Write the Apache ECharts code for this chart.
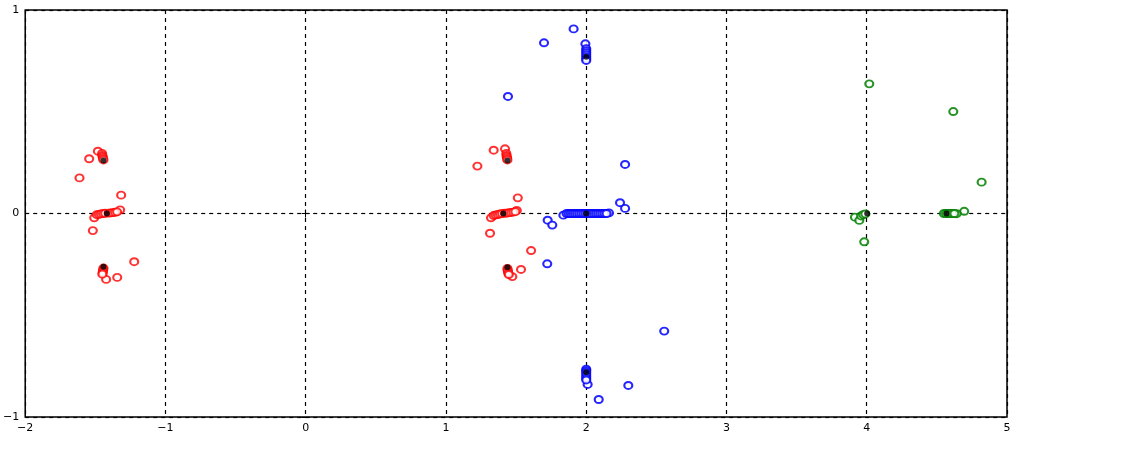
<!DOCTYPE html>
<html>
<head>
<meta charset="utf-8">
<script src="https://cdn.jsdelivr.net/npm/echarts@6/dist/echarts.min.js"></script>
<style>
  html, body { margin: 0; padding: 0; background: #fff; }
  #chart { width: 1128px; height: 453px; }
</style>
</head>
<body>
<div id="chart"></div>
<script>
// axis ticks
const xTicks = [-2, -1, 0, 1, 2, 3, 4, 5];
const yTicks = [-1, 0, 1];

// open circles, red group (two clusters)
const redPoints = [
  [-1.482, 0.306], [-1.544, 0.269], [-1.613, 0.175], [-1.316, 0.090], [-1.323, 0.018],
  [-1.508, -0.021], [-1.518, -0.084], [-1.223, -0.237], [-1.423, -0.324], [-1.344, -0.314],
  [-1.452, 0.295], [-1.45, 0.285], [-1.447, 0.278], [-1.445, 0.27], [-1.442, 0.263],
  [-1.442, -0.268], [-1.444, -0.276], [-1.446, -0.284], [-1.448, -0.292], [-1.45, -0.298],
  [-1.49, -0.006], [-1.475, -0.004], [-1.46, -0.002], [-1.445, 0], [-1.43, 0.001], [-1.405, 0.002],
  [-1.39, 0.003], [-1.375, 0.004], [-1.36, 0.006], [-1.345, 0.008],
  [1.340, 0.311], [1.421, 0.318], [1.224, 0.233], [1.512, 0.077], [1.505, 0.015],
  [1.321, -0.021], [1.314, -0.097], [1.607, -0.182], [1.535, -0.275], [1.473, -0.310],
  [1.43, 0.295], [1.432, 0.285], [1.434, 0.278], [1.436, 0.27], [1.438, 0.263],
  [1.438, -0.27], [1.44, -0.278], [1.442, -0.286], [1.445, -0.294], [1.448, -0.3],
  [1.34, -0.01], [1.355, -0.007], [1.37, -0.005], [1.385, -0.002], [1.40, 0], [1.42, 0.001],
  [1.435, 0.002], [1.45, 0.004], [1.465, 0.005], [1.48, 0.007], [1.495, 0.009]
];

// open circles, blue group
const bluePoints = [
  [1.910, 0.907], [1.699, 0.839], [1.994, 0.834], [1.442, 0.575], [2.277, 0.241],
  [2.241, 0.053], [2.277, 0.025], [2.162, 0.003], [1.837, -0.008], [1.725, -0.033],
  [1.758, -0.057], [1.722, -0.247], [2.556, -0.578], [2.010, -0.840], [2.300, -0.845],
  [2.089, -0.914],
  [2.0, 0.81], [2.0, 0.8], [2.0, 0.79], [2.0, 0.78], [2.0, 0.77], [2.0, 0.76], [2.0, 0.752],
  [2.0, -0.765], [2.0, -0.772], [2.0, -0.78], [2.0, -0.79], [2.0, -0.80], [2.0, -0.81], [2.0, -0.818],
  [1.86, 0], [1.875, 0], [1.89, 0], [1.905, 0], [1.92, 0], [1.935, 0], [1.95, 0], [1.965, 0],
  [1.98, 0], [1.995, 0], [2.01, 0], [2.025, 0], [2.04, 0], [2.055, 0], [2.07, 0], [2.085, 0],
  [2.10, 0], [2.115, 0], [2.13, 0], [2.145, 0]
];

// open circles, green group
const greenPoints = [
  [4.018, 0.637], [4.617, 0.501], [4.819, 0.154], [4.695, 0.011], [4.641, -0.001],
  [3.916, -0.018], [3.947, -0.034], [3.982, -0.139], [3.96, -0.012], [3.975, -0.006], [3.99, -0.002],
  [4.55, 0], [4.565, 0], [4.58, 0], [4.595, 0], [4.61, 0], [4.625, 0]
];

// filled black centres
const blackPoints = [
  [-1.442, 0.26], [-1.418, 0], [-1.442, -0.262],
  [1.438, 0.26], [1.409, 0], [1.438, -0.264],
  [2.0, 0.77], [2.0, 0], [2.0, -0.78],
  [4.003, 0], [4.569, 0]
];

const fmt = v => (v < 0 ? '\u2212' + Math.abs(v) : String(v));
const dash = { color: '#000', type: [4, 4], width: 1.2 };

const chart = echarts.init(document.getElementById('chart'));
chart.setOption({
  animation: false,
  grid: { left: 25, top: 10, right: 121, bottom: 36, show: true, borderColor: '#000', borderWidth: 1.5, backgroundColor: '#fff' },
  xAxis: [
    {
      type: 'value', min: xTicks[0], max: xTicks[xTicks.length - 1], interval: 1,
      axisLine: { show: false },
      axisTick: { show: true, inside: true, length: 4, lineStyle: { color: '#000' } },
      axisLabel: { color: '#000', fontSize: 11, fontFamily: 'DejaVu Sans', margin: 6, formatter: fmt },
      splitLine: { show: true, lineStyle: dash }
    },
    {
      type: 'value', position: 'top', min: xTicks[0], max: xTicks[xTicks.length - 1], interval: 1,
      axisLine: { show: false },
      axisTick: { show: true, inside: true, length: 4, lineStyle: { color: '#000' } },
      axisLabel: { show: false }, splitLine: { show: false }
    }
  ],
  yAxis: [
    {
      type: 'value', min: yTicks[0], max: yTicks[yTicks.length - 1], interval: 1,
      axisLine: { show: false },
      axisTick: { show: true, inside: true, length: 4, lineStyle: { color: '#000' } },
      axisLabel: { color: '#000', fontSize: 11, fontFamily: 'DejaVu Sans', margin: 6, formatter: fmt },
      splitLine: { show: true, lineStyle: dash }
    },
    {
      type: 'value', position: 'right', min: yTicks[0], max: yTicks[yTicks.length - 1], interval: 1,
      axisLine: { show: false },
      axisTick: { show: true, inside: true, length: 4, lineStyle: { color: '#000' } },
      axisLabel: { show: false }, splitLine: { show: false }
    }
  ],
  series: [
    { type: 'scatter', data: redPoints, symbol: 'emptyCircle', symbolSize: [8, 7],
      itemStyle: { color: '#ff0000', borderColor: '#ff0000', borderWidth: 1.5, opacity: 0.8 } },
    { type: 'scatter', data: bluePoints, symbol: 'emptyCircle', symbolSize: [8, 7],
      itemStyle: { color: '#0000ff', borderColor: '#0000ff', borderWidth: 1.5, opacity: 0.85 } },
    { type: 'scatter', data: greenPoints, symbol: 'emptyCircle', symbolSize: [8, 7],
      itemStyle: { color: '#008000', borderColor: '#008000', borderWidth: 1.5, opacity: 0.85 } },
    { type: 'scatter', data: blackPoints, symbol: 'circle', symbolSize: 6,
      itemStyle: { color: '#000' } }
  ]
});
</script>
</body>
</html>
